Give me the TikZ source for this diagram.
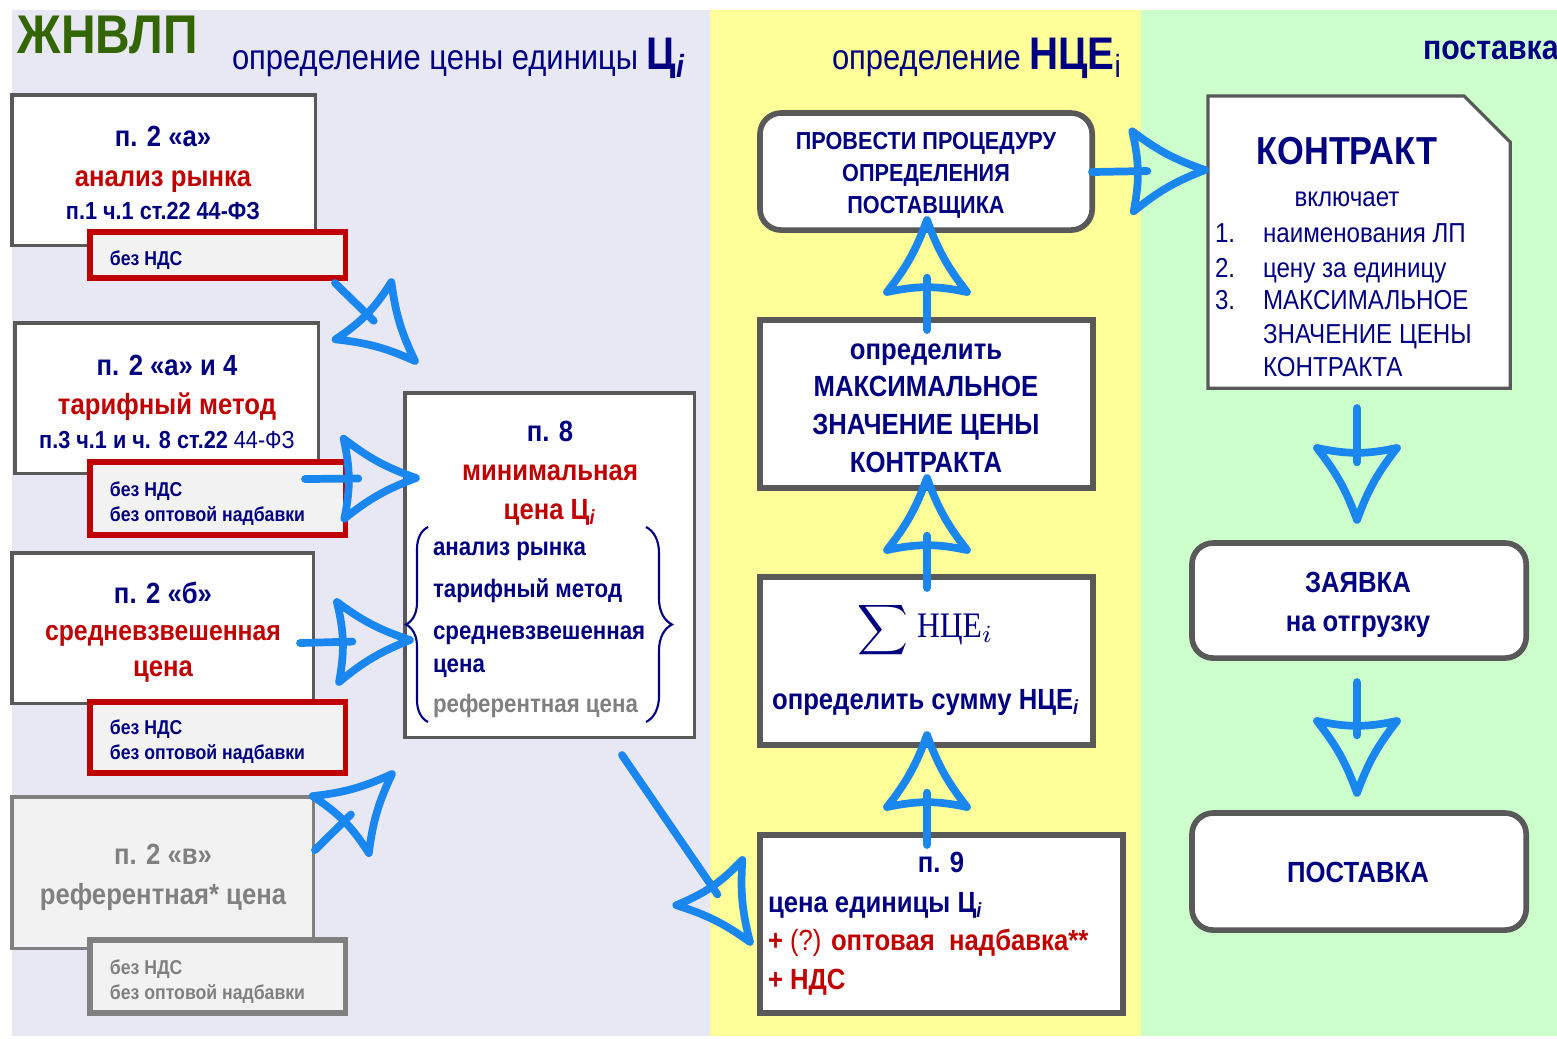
\documentclass[tikz,border=0pt]{standalone}
\usepackage{fontspec}
\setmainfont{Liberation Sans}[FakeStretch=0.88]
\newfontfamily\serifn{Liberation Serif}[FakeStretch=0.88]
\usetikzlibrary{calc,decorations.pathreplacing}
\definecolor{navy}{HTML}{000080}
\definecolor{dred}{HTML}{C00000}
\definecolor{lav}{HTML}{E8E8F4}
\definecolor{yel}{HTML}{FFFF99}
\definecolor{grn}{HTML}{CCFFCC}
\definecolor{arrblue}{HTML}{1A86F0}
\definecolor{bord}{HTML}{595959}
\definecolor{gtext}{HTML}{808080}
\definecolor{ggreen}{HTML}{336600}
\definecolor{tagfill}{HTML}{F2F2F2}
\newcommand\fsz[1]{\fontsize{#1}{#1}\selectfont}
\newcommand\fatarr[2]{%
  \coordinate (fb) at ($(#2)!0.72cm!(#1)$);
  \coordinate (fc1) at ($(fb)!0.40cm!90:(#2)$);
  \coordinate (fc2) at ($(fb)!0.40cm!-90:(#2)$);
  \draw[arrline] (#1) -- ($(fb)!0.2!(#2)$);
  \draw[arrline] (#2) to[bend left=9] (fc1) to[bend left=12] (fc2) to[bend left=9] (#2);
}
\begin{document}
\begin{tikzpicture}[x=0.01cm,y=-0.01cm,
  every node/.style={inner sep=0pt,outer sep=0pt},
  lbox/.style={draw=bord,line width=0.9pt,fill=white,anchor=north west},
  tagbox/.style={draw=dred,line width=1.5pt,fill=tagfill,anchor=north west},
  cbox/.style={draw=bord,line width=1.6pt,fill=white,anchor=north west},
  rbox/.style={cbox,rounded corners=6pt},
  ttl/.style={anchor=mid,font=\bfseries\fsz{8.3},text=navy},
  reft/.style={anchor=mid,font=\bfseries\fsz{7},text=navy},
  tagt/.style={anchor=mid west,font=\bfseries\fsz{5.7},text=navy},
  listt/.style={anchor=mid west,font=\bfseries\fsz{7.2},text=navy},
  kt/.style={anchor=mid west,font=\fsz{7.8},text=navy},
  brc/.style={draw=navy,line width=0.6pt,decorate},
  arrline/.style={draw=arrblue,line width=2.2pt,line cap=round,line join=round}
]
\useasboundingbox (0,0) rectangle (1557,1038);
\fill[white] (0,0) rectangle (1557,1038);
\fill[lav] (12,10) rectangle (710,1036);
\fill[yel] (710,10) rectangle (1141,1036);
\fill[grn] (1141,10) rectangle (1557,1036);

% headers
\node[anchor=mid west,font=\bfseries\fsz{15.5},text=ggreen] (hz) at (18,44) {ЖНВЛП};
\node[anchor=mid west,font=\fsz{10},text=navy] (h1) at (232,60) {определение цены единицы {\bfseries\fsz{13}Ц\textsubscript{\itshape i}}};
\node[anchor=mid west,font=\fsz{10},text=navy] (h2) at (832,60) {определение {\bfseries\fsz{13}НЦЕ\textsubscript{\mdseries i}}};
\node[anchor=mid west,font=\bfseries\fsz{9.8},text=navy] (h3) at (1423,50) {поставка};

% left boxes
\node[lbox,minimum width=3.03cm,minimum height=1.50cm] (b1) at (12,95) {};
\node[ttl] (b1a) at (163,137) {п. 2 «а»};
\node[ttl,text=dred] (b1b) at (163,177) {анализ рынка};
\node[reft] (b1c) at (163,210) {п.1 ч.1 ст.22 44-ФЗ};
\node[tagbox,minimum width=2.55cm,minimum height=0.46cm] (r1) at (90,232) {};
\node[tagt] (r1a) at (110,256) {без НДС};

\node[lbox,minimum width=3.03cm,minimum height=1.50cm] (b2) at (15,323) {};
\node[ttl] (b2a) at (167,366) {п. 2 «а» и 4};
\node[ttl,text=dred] (b2b) at (167,405) {тарифный метод};
\node[reft] (b2c) at (167,439) {п.3 ч.1 и ч. 8 ст.22 {\mdseries 44-ФЗ}};
\node[tagbox,minimum width=2.55cm,minimum height=0.73cm] (r2) at (90,462) {};
\node[tagt] (r2a) at (110,487) {без НДС};
\node[tagt] (r2b) at (110,512) {без оптовой надбавки};

\node[lbox,minimum width=3.01cm,minimum height=1.50cm] (b3) at (12,553) {};
\node[ttl] (b3a) at (163,594) {п. 2 «б»};
\node[ttl,text=dred,font=\bfseries\fsz{8}] (b3b) at (163,631) {средневзвешенная};
\node[ttl,text=dred] (b3c) at (163,667) {цена};
\node[tagbox,minimum width=2.55cm,minimum height=0.71cm] (r3) at (90,702) {};
\node[tagt] (r3a) at (110,725) {без НДС};
\node[tagt] (r3b) at (110,750) {без оптовой надбавки};

\node[lbox,draw=gtext,fill=tagfill,minimum width=3.01cm,minimum height=1.51cm] (b4) at (12,797) {};
\node[ttl,text=gtext] (b4a) at (163,855) {п. 2 «в»};
\node[ttl,text=gtext] (b4b) at (163,895) {референтная* цена};
\node[tagbox,draw=gtext,minimum width=2.55cm,minimum height=0.73cm] (r4) at (90,940) {};
\node[tagt,text=gtext] (r4a) at (110,965) {без НДС};
\node[tagt,text=gtext] (r4b) at (110,990) {без оптовой надбавки};

% middle box
\node[lbox,minimum width=2.89cm,minimum height=3.44cm] (mb) at (405,393) {};
\node[ttl] (mba) at (550,432) {п. 8};
\node[ttl,text=dred] (mbb) at (550,471) {минимальная};
\node[ttl,text=dred] (mbc) at (550,510) {цена Ц\textsubscript{\itshape i}};
\node[listt] (l1) at (433,546) {анализ рынка};
\node[listt] (l2) at (433,588) {тарифный метод};
\node[listt] (l3) at (433,630) {средневзвешенная};
\node[listt] (l4) at (433,663) {цена};
\node[listt,text=gtext] (l5) at (433,703) {референтная цена};
\draw[brc,decoration={brace,amplitude=0.22cm}] (428,722) -- (428,527);
\draw[brc,decoration={brace,amplitude=0.26cm}] (646,527) -- (646,722);

% centre column
\node[rbox,minimum width=3.32cm,minimum height=1.17cm] (pr) at (760,113) {};
\node[ttl,font=\bfseries\fsz{7}] (pra) at (926,140) {ПРОВЕСТИ ПРОЦЕДУРУ};
\node[ttl,font=\bfseries\fsz{7}] (prb) at (926,172) {ОПРЕДЕЛЕНИЯ};
\node[ttl,font=\bfseries\fsz{7}] (prc) at (926,204) {ПОСТАВЩИКА};

\node[cbox,minimum width=3.33cm,minimum height=1.68cm] (mx) at (760,320) {};
\node[ttl] (mxa) at (926,350) {определить};
\node[ttl] (mxb) at (926,387) {МАКСИМАЛЬНОЕ};
\node[ttl] (mxc) at (926,425) {ЗНАЧЕНИЕ ЦЕНЫ};
\node[ttl] (mxd) at (926,463) {КОНТРАКТА};

\node[cbox,minimum width=3.33cm,minimum height=1.68cm] (sm) at (760,577) {};
\node[text=navy] (sig) at (883,630) {\fsz{14.5}$\displaystyle\sum$};
\node[anchor=mid west,text=navy,font=\serifn\fsz{10.2}] (nce) at (917,628) {НЦЕ$_{i}$};
\node[ttl] (sma) at (926,700) {определить сумму НЦЕ\textsubscript{\itshape i}};

\node[cbox,minimum width=3.63cm,minimum height=1.78cm] (p9) at (760,835) {};
\node[ttl] (p9a) at (941,863) {п. 9};
\node[ttl,anchor=mid west] (p9b) at (768,903) {цена единицы Ц\textsubscript{\itshape i}};
\node[ttl,anchor=mid west,text=dred] (p9c) at (768,941) {+ {\mdseries (?)} оптовая\ \ надбавка**};
\node[ttl,anchor=mid west,text=dred] (p9d) at (768,980) {+ НДС};

% right column
\node[minimum width=3.02cm,minimum height=2.92cm,anchor=north west] (kn) at (1208,96) {};
\draw[draw=bord,line width=0.9pt,fill=white] (kn.north west) -- ($(kn.north east)+(-46,0)$) -- ($(kn.north east)+(0,46)$) -- (kn.south east) -- (kn.south west) -- cycle;
\node[ttl,font=\bfseries\fsz{11.1}] (kna) at (1347,155) {КОНТРАКТ};
\node[ttl,font=\fsz{7.8}] (knb) at (1347,197) {включает};
\node[kt] (kn1) at (1215,233) {1.};
\node[kt] (kn1t) at (1263,233) {наименования ЛП};
\node[kt] (kn2) at (1215,268) {2.};
\node[kt] (kn2t) at (1263,268) {цену за единицу};
\node[kt] (kn3) at (1215,300) {3.};
\node[kt] (kn3t) at (1263,300) {МАКСИМАЛЬНОЕ};
\node[kt] (kn3u) at (1263,334) {ЗНАЧЕНИЕ ЦЕНЫ};
\node[kt] (kn3v) at (1263,367) {КОНТРАКТА};

\node[rbox,minimum width=3.34cm,minimum height=1.15cm] (zy) at (1192,543) {};
\node[ttl] (zya) at (1358,583) {ЗАЯВКА};
\node[ttl] (zyb) at (1358,622) {на отгрузку};

\node[rbox,minimum width=3.34cm,minimum height=1.17cm] (ps) at (1192,813) {};
\node[ttl] (psa) at (1358,873) {ПОСТАВКА};

% arrows
\coordinate (a1s) at (335,283); \coordinate (a1t) at (415,361);
\coordinate (a2s) at (305,479); \coordinate (a2t) at (416,478);
\coordinate (a3s) at (300,643); \coordinate (a3t) at (410,640);
\coordinate (a4s) at (315,850); \coordinate (a4t) at (392,774);
\coordinate (a5s) at (622,755); \coordinate (a5t) at (750,942);
\coordinate (u1s) at (927,330); \coordinate (u1t) at (927,220);
\coordinate (u2s) at (927,588); \coordinate (u2t) at (927,478);
\coordinate (u3s) at (927,845); \coordinate (u3t) at (927,735);
\coordinate (rs) at (1092,172); \coordinate (rt) at (1205,170);
\coordinate (d1s) at (1357,408); \coordinate (d1t) at (1357,520);
\coordinate (d2s) at (1357,682); \coordinate (d2t) at (1357,793);
\fatarr{a1s}{a1t}
\fatarr{a2s}{a2t}
\fatarr{a3s}{a3t}
\fatarr{a4s}{a4t}
\fatarr{a5s}{a5t}
\fatarr{u1s}{u1t}
\fatarr{u2s}{u2t}
\fatarr{u3s}{u3t}
\fatarr{rs}{rt}
\fatarr{d1s}{d1t}
\fatarr{d2s}{d2t}
\end{tikzpicture}
\end{document}
